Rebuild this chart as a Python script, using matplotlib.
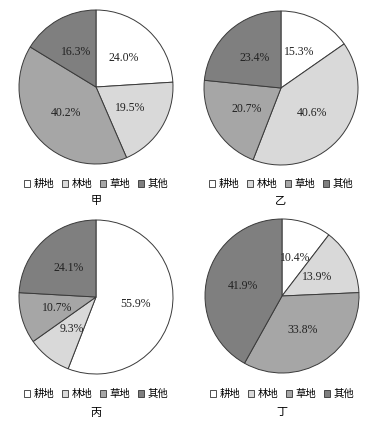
import matplotlib
matplotlib.use('Agg')
import matplotlib.pyplot as plt
from matplotlib.patches import Patch

plt.rcParams['font.family'] = ['Liberation Serif', 'Noto Sans CJK SC']

categories = ['耕地', '林地', '草地', '其他']
colors = ['#ffffff', '#d9d9d9', '#a6a6a6', '#7f7f7f']

jia = [24.0, 19.5, 40.2, 16.3]
yi = [15.3, 40.6, 20.7, 23.4]
bing = [55.9, 9.3, 10.7, 24.1]
ding = [10.4, 13.9, 33.8, 41.9]

titles = ['甲', '乙', '丙', '丁']
series = [jia, yi, bing, ding]

W, H = 378, 422
# pie centre (px from top-left), legend y, title y
centres = [(96, 87), (281, 88), (96, 297), (282, 296)]
legend_y = [184, 184, 394, 394]
title_y = [201, 201, 413, 413]
R = 77

fig = plt.figure(figsize=(W / 100, H / 100), dpi=100)

for vals, title, (cx, cy), ly, ty in zip(series, titles, centres, legend_y, title_y):
    ax = fig.add_axes([(cx - R) / W, 1 - (cy + R) / H, 2 * R / W, 2 * R / H])
    ax.pie(vals, colors=colors, startangle=90, counterclock=False,
           autopct='%.1f%%', pctdistance=0.52,
           wedgeprops=dict(edgecolor='#3a3a3a', linewidth=0.7),
           textprops=dict(fontsize=8.5, color='#222222'))
    ax.set_xlim(-1, 1)
    ax.set_ylim(-1, 1)
    ax.set_aspect('equal')
    ax.axis('off')

    handles = [Patch(facecolor=c, edgecolor='#333333', linewidth=0.6) for c in colors]
    fig.legend(handles, categories, loc='center', bbox_to_anchor=(cx / W, 1 - ly / H),
               ncol=4, frameon=False, fontsize=7.5, handlelength=0.6, handleheight=0.6,
               handletextpad=0.35, columnspacing=0.7, borderaxespad=0)
    fig.text(cx / W, 1 - ty / H, title, ha='center', va='center', fontsize=8)

fig.savefig('out.png', dpi=100, facecolor='white')
